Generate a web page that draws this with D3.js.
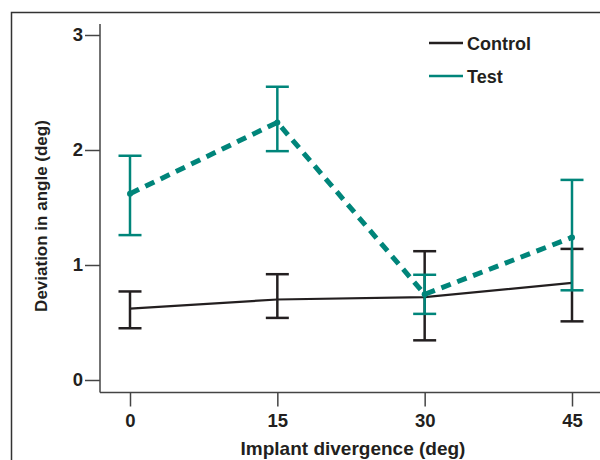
<!DOCTYPE html>
<html>
<head>
<meta charset="utf-8">
<script src="https://cdn.jsdelivr.net/npm/d3@7"></script>
<style>
  body { margin: 0; background: #fff; }
  text { font-family: "Liberation Sans", Arial, sans-serif; font-weight: bold; fill: #231f20; }
</style>
</head>
<body>
<svg id="chart" width="600" height="460"></svg>
<script>
// data
let divergence = [0, 15, 30, 45];
let controlMean = [0.62, 0.70, 0.72, 0.845];
let controlHi   = [0.77, 0.92, 1.12, 1.14];
let controlLo   = [0.45, 0.54, 0.345, 0.51];
let testMean = [1.62, 2.24, 0.745, 1.24];
let testHi   = [1.95, 2.55, 0.915, 1.74];
let testLo   = [1.26, 1.99, 0.575, 0.78];
let yTicks = [0, 1, 2, 3];

let black = "#231f20", teal = "#00857a";

let svg = d3.select("#chart");

// outer frame (left + top only)
svg.append("path")
    .attr("d", "M11.5,460V12.5H600")
    .attr("fill", "none").attr("stroke", "#333").attr("stroke-width", 1.5);

let x = d3.scaleLinear().domain([0, 45]).range([130, 572]);
let y = d3.scaleLinear().domain([0, 3]).range([380, 35]);

// axes
let yAxis = svg.append("g").attr("transform", "translate(100,0)")
    .call(d3.axisLeft(y).tickValues(yTicks).tickFormat(d3.format("d")).tickSize(15).tickPadding(2));
yAxis.select(".domain").remove();
yAxis.append("line").attr("x1", 0).attr("x2", 0).attr("y1", 24).attr("y2", 392.5)
    .attr("stroke", "#444").attr("stroke-width", 1.5);

let xAxis = svg.append("g").attr("transform", "translate(0,392.5)")
    .call(d3.axisBottom(x).tickValues(divergence).tickFormat(d3.format("d")).tickSize(14).tickPadding(7));
xAxis.select(".domain").remove();
xAxis.append("line").attr("x1", 100).attr("x2", 600).attr("y1", 0).attr("y2", 0)
    .attr("stroke", "#444").attr("stroke-width", 1.5);

svg.selectAll(".tick line").attr("stroke", "#444").attr("stroke-width", 1.5);
svg.selectAll("g").attr("font-size", null).attr("font-family", null);
svg.selectAll(".tick text")
    .style("font-size", "18.5px")
    .style("font-weight", "bold").attr("fill", black);

// axis titles
svg.append("text").attr("x", 353).attr("y", 455).attr("text-anchor", "middle")
    .style("font-size", "19px").text("Implant divergence (deg)");
svg.append("text").attr("transform", "translate(47,216) rotate(-90)").attr("text-anchor", "middle")
    .style("font-size", "17px").text("Deviation in angle (deg)");

function series(mean, hi, lo, color, lineW, dash) {
    let g = svg.append("g");
    let pts = divergence.map((d, i) => [x(d), y(mean[i])]);
    g.append("path").datum(pts)
        .attr("d", d3.line())
        .attr("fill", "none").attr("stroke", color)
        .attr("stroke-width", lineW)
        .attr("stroke-dasharray", dash);
    divergence.forEach((d, i) => {
        let cx = x(d);
        g.append("line").attr("x1", cx).attr("x2", cx).attr("y1", y(hi[i])).attr("y2", y(lo[i]))
            .attr("stroke", color).attr("stroke-width", 2.5);
        [hi[i], lo[i]].forEach(v => {
            g.append("line").attr("x1", cx - 11.5).attr("x2", cx + 11.5)
                .attr("y1", y(v)).attr("y2", y(v))
                .attr("stroke", color).attr("stroke-width", 2.5);
        });
    });
    return g;
}

series(controlMean, controlHi, controlLo, black, 2.2, null);
let tg = series(testMean, testHi, testLo, teal, 5, "10,7");
tg.selectAll("circle").data(divergence).enter().append("circle")
    .attr("cx", d => x(d)).attr("cy", (d, i) => y(testMean[i])).attr("r", 3)
    .attr("fill", teal);

// legend
let legend = [["Control", black], ["Test", teal]];
legend.forEach((l, i) => {
    let ly = 43 + i * 33;
    svg.append("line").attr("x1", 429).attr("x2", 463).attr("y1", ly).attr("y2", ly)
        .attr("stroke", l[1]).attr("stroke-width", 2.5);
    svg.append("text").attr("x", 467).attr("y", ly + 7).style("font-size", "18px").text(l[0]);
});
</script>
</body>
</html>
